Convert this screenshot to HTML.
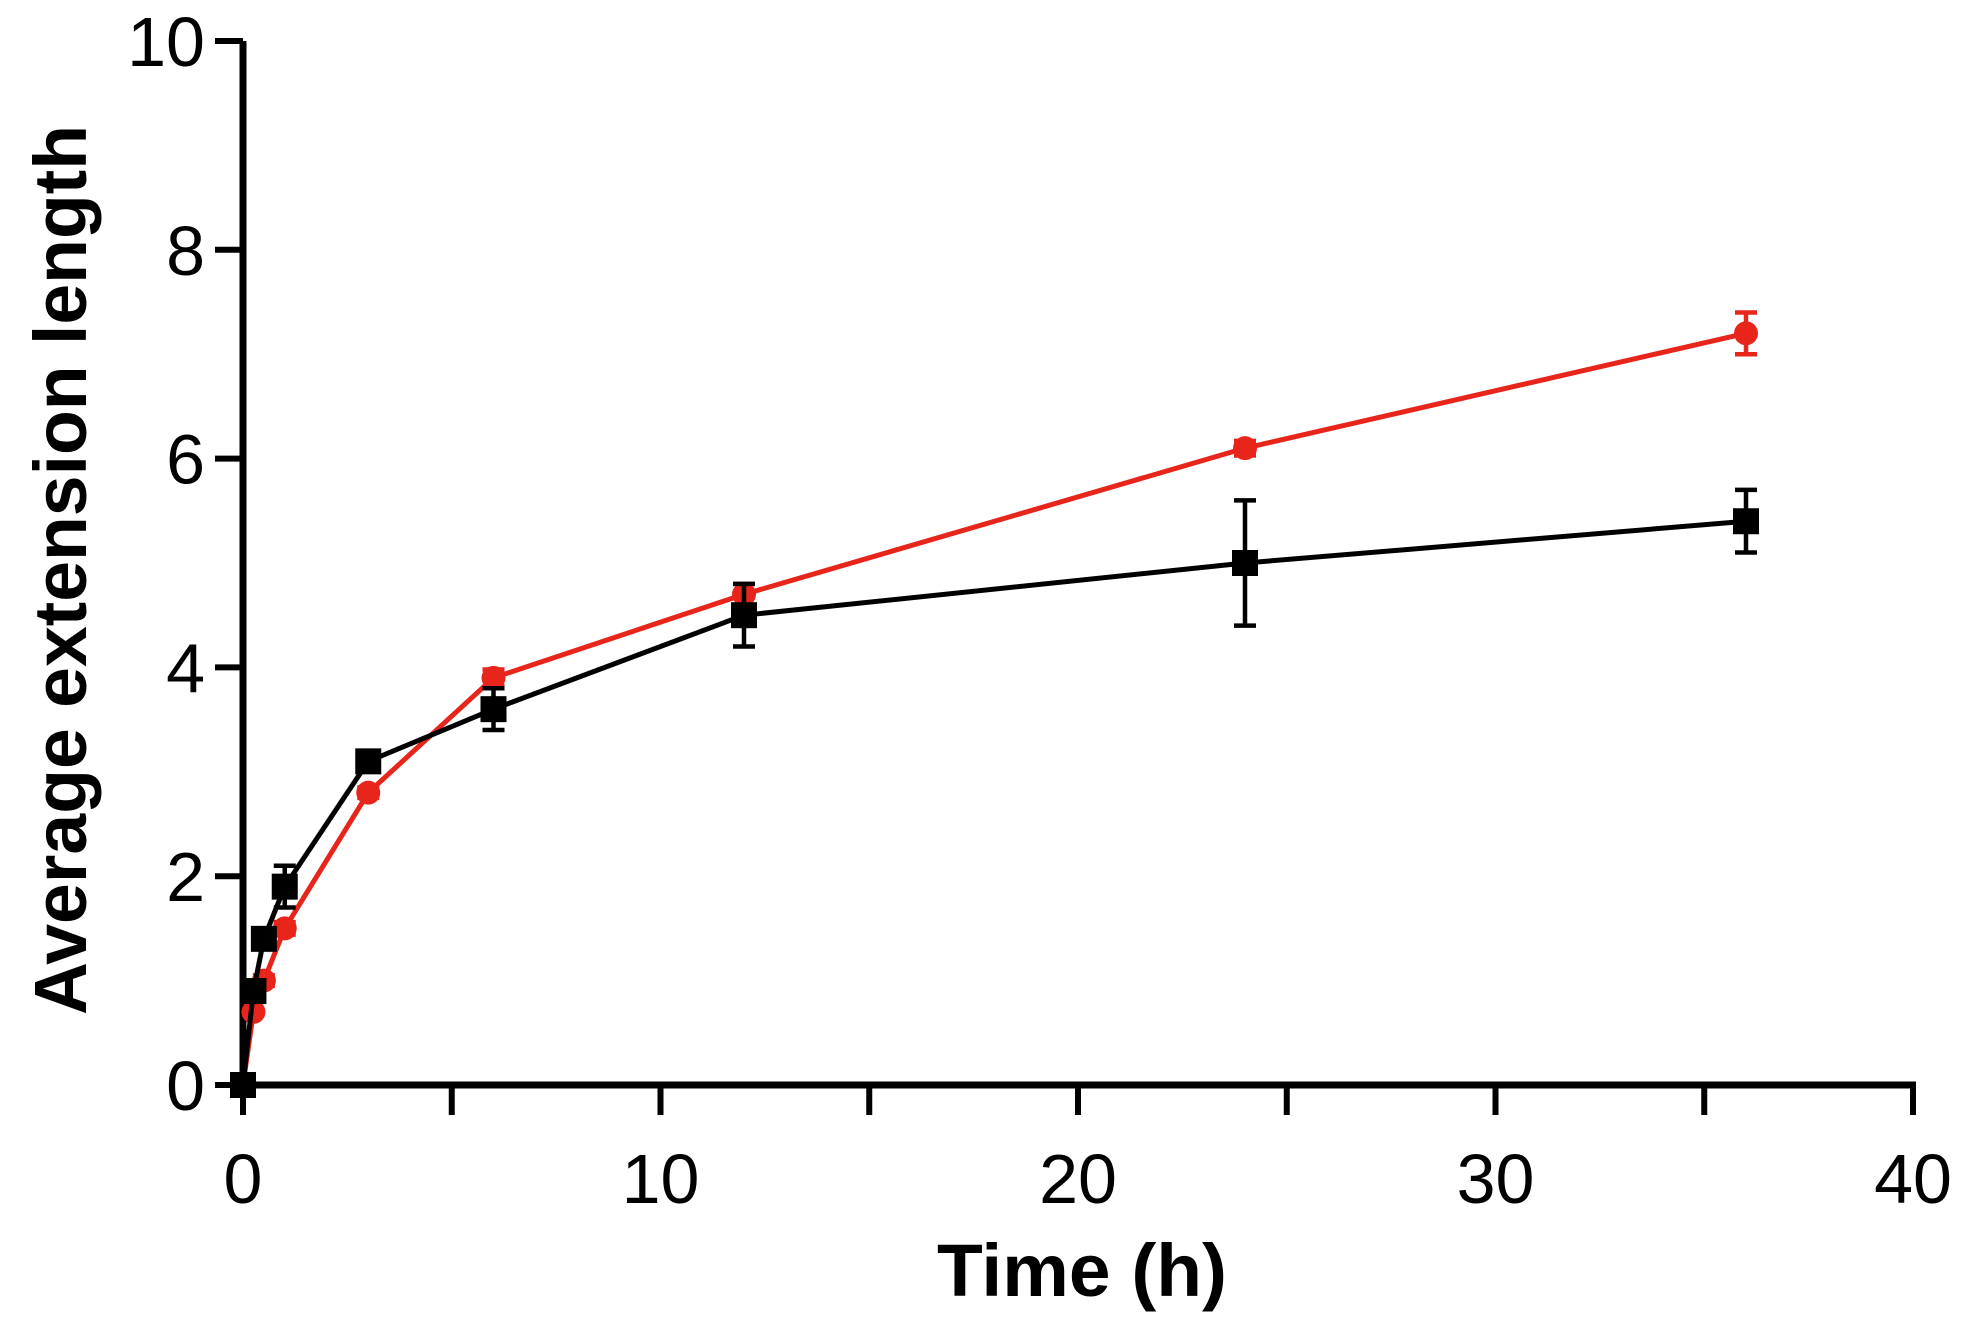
<!DOCTYPE html>
<html><head><meta charset="utf-8"><style>
html,body{margin:0;padding:0;background:#fff;}
svg{display:block;font-family:"Liberation Sans",Arial,sans-serif;}
</style></head><body>
<svg id="chart" width="1977" height="1318" viewBox="0 0 1977 1318" xmlns="http://www.w3.org/2000/svg">
<g id="axes"></g>
<g id="series"></g>
<text x="1082" y="1296" font-size="74" font-weight="bold" text-anchor="middle" textLength="290" lengthAdjust="spacingAndGlyphs">Time (h)</text>
<text transform="translate(86,570) rotate(-90)" font-size="74" font-weight="bold" text-anchor="middle" textLength="890" lengthAdjust="spacingAndGlyphs">Average extension length</text>
</svg>
<script>
const xTicks = [0,5,10,15,20,25,30,35,40];
const xTickLabels = ["0","","10","","20","","30","","40"];
const yTicks = [0,2,4,6,8,10];
const yTickLabels = ["0","2","4","6","8","10"];
const times = [0,0.25,0.5,1,3,6,12,24,36];
const redValues = [0,0.7,1.0,1.5,2.8,3.9,4.7,6.1,7.2];
const redErrors = [0,0.03,0.05,0.06,0.05,0.08,0.1,0.07,0.2];
const blackValues = [0,0.9,1.4,1.9,3.1,3.6,4.5,5.0,5.4];
const blackErrors = [0,0.05,0.05,0.2,0.05,0.2,0.3,0.6,0.3];

const NS="http://www.w3.org/2000/svg";
const X0=243,X1=1913,Y0=1085,Y1=41;
const xs=v=>X0+(v-0)/(40-0)*(X1-X0);
const ys=v=>Y0-(v-0)/(10-0)*(Y0-Y1);
function mk(tag,attrs,parent){const e=document.createElementNS(NS,tag);for(const k in attrs)e.setAttribute(k,attrs[k]);parent.appendChild(e);return e;}
const axes=document.getElementById('axes');
const series=document.getElementById('series');

let e=mk('line',{x1:X0,y1:Y1,x2:X0,y2:Y0+3,stroke:'#000','stroke-width':7},axes);


e=mk('line',{x1:X0-3,y1:Y0,x2:X1+3,y2:Y0,stroke:'#000','stroke-width':7},axes);



yTicks.forEach((t,i)=>{
  const y=ys(t);
  let l=mk('line',{x1:X0-28,y1:y,x2:X0,y2:y,stroke:'#000','stroke-width':6},axes);
  
  
  let tx=mk('text',{x:X0-38,y:y+25,'font-size':70,'text-anchor':'end'},axes);
  tx.textContent=yTickLabels[i];
  
  
});
xTicks.forEach((t,i)=>{
  const x=xs(t);
  let l=mk('line',{x1:x,y1:Y0,x2:x,y2:Y0+30,stroke:'#000','stroke-width':6},axes);
  
  
  if(xTickLabels[i]){
    let tx=mk('text',{x:x,y:1203,'font-size':70,'text-anchor':'middle'},axes);
    tx.textContent=xTickLabels[i];
    
    
  }
});

function drawSeries(vals,errs,color,shape,name){
  const g=mk('g',{},series);
  
  
  const pts=times.map((t,i)=>xs(t)+','+ys(vals[i])).join(' ');
  const pl=mk('polyline',{points:pts,fill:'none',stroke:color,'stroke-width':5,'stroke-linejoin':'round'},g);
  
  
  times.forEach((t,i)=>{
    const x=xs(t),y=ys(vals[i]);
    if(errs[i]>0.04){
      const yt=ys(vals[i]+errs[i]),yb=ys(vals[i]-errs[i]);
      const eb=mk('path',{d:`M${x},${yt}V${yb}M${x-11},${yt}H${x+11}M${x-11},${yb}H${x+11}`,stroke:color,'stroke-width':4.5,fill:'none'},g);
      
      
    }
    let m;
    if(shape==='square') m=mk('rect',{x:x-13,y:y-13,width:26,height:26,fill:color},g);
    else m=mk('circle',{cx:x,cy:y,r:12,fill:color},g);
    
    
  });
}
drawSeries(redValues,redErrors,'#e8251b','circle','red-series');
drawSeries(blackValues,blackErrors,'#000','square','black-series');
</script>
</body></html>
